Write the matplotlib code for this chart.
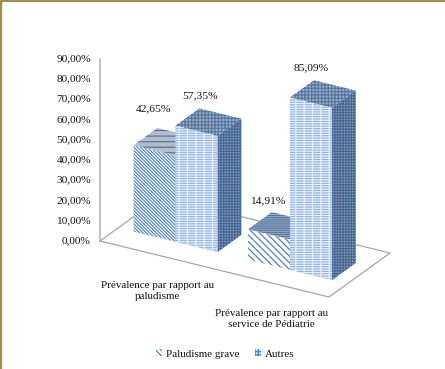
import matplotlib
matplotlib.use('Agg')
import matplotlib.pyplot as plt
from matplotlib.patches import Polygon, Patch

categories = ['Prévalence par rapport au\npaludisme', 'Prévalence par rapport au\nservice de Pédiatrie']
series_names = ['Paludisme grave', 'Autres']
paludisme = [42.65, 14.91]
autres = [57.35, 85.09]
tick_values = [0, 10, 20, 30, 40, 50, 60, 70, 80, 90]

plt.rcParams['font.family'] = ['Liberation Serif', 'DejaVu Serif']
plt.rcParams['hatch.linewidth'] = 0.9

W, H = 445, 369
origin = (100, 241)
x_vec = (229, 56)
d_vec = (61, -44)
px_per_pct = 2.025
FS = 8.2
FS_CAT = 7.9
BLUE = '#4f81bd'


def project(s, t, v=0):
    # s along the category axis, t in depth, v in percent
    return (origin[0] + s * x_vec[0] + t * d_vec[0],
            origin[1] + s * x_vec[1] + t * d_vec[1] - v * px_per_pct)


fig = plt.figure(figsize=(W / 100, H / 100), dpi=100)
ax = fig.add_axes([0, 0, 1, 1])
ax.set_xlim(0, W)
ax.set_ylim(H, 0)
ax.axis('off')

# frame of the page
ax.plot([1, 1, W], [H, 0.5, 0.5], color='#9c8f52', lw=1.6, clip_on=False)

# floor and value axis
floor = [project(0, 0), project(1, 0), project(1, 1), project(0, 1), project(0, 0)]
ax.plot([p[0] for p in floor], [p[1] for p in floor], color='#a6a6a6', lw=0.9, zorder=1)
ax.plot([origin[0]] * 2, [origin[1], origin[1] - 90 * px_per_pct], color='#b0b0b0', lw=1.1, zorder=1)

for v in tick_values:
    ax.text(91, origin[1] - v * px_per_pct, f'{v},00%', ha='right', va='center',
            fontsize=FS, color='#111111')

bar_w = 0.1834
gap = 0.0665
t0, t1 = 0.30, 0.69


def face(points, fc, hatch, hc, z):
    ax.add_patch(Polygon(points, closed=True, facecolor=fc, edgecolor=hc, hatch=hatch, lw=0, zorder=z))


def draw_bar(s0, v, front, z):
    s1 = s0 + bar_w
    # side face
    side = [project(s1, t0), project(s1, t1), project(s1, t1, v), project(s1, t0, v)]
    face(side, '#8f9cb0', '++++++', '#46699a', z)
    # top face
    top = [project(s0, t0, v), project(s1, t0, v), project(s1, t1, v), project(s0, t1, v)]
    face(top, front['top_fc'], front['top_hatch'], '#5577a5', z)
    # front face
    fr = [project(s0, t0), project(s1, t0), project(s1, t0, v), project(s0, t0, v)]
    face(fr, front['fc'], front['hatch'], front['hc'], z)
    if front.get('over'):
        face(fr, 'none', front['over'], front['over_c'], z)


style_a = {'fc': 'white', 'hatch': '\\' * 10, 'hc': '#5a8ac6', 'top_fc': '#b4bdc9', 'top_hatch': '---'}
style_a2 = {'fc': 'white', 'hatch': '\\' * 5, 'hc': '#4f81bd', 'top_fc': '#a9b4c2', 'top_hatch': '-' * 8}
style_b = {'fc': '#8fb3e0', 'hatch': '||', 'hc': '#f2f7fd', 'top_fc': '#a0adbf', 'top_hatch': '+++++',
           'over': '-' * 7, 'over_c': '#e4edf8'}

for i in range(len(categories)):
    s = i * 0.5 + gap
    draw_bar(s, paludisme[i], style_a if i == 0 else style_a2, 3 + 2 * i)
    draw_bar(s + bar_w, autres[i], style_b, 4 + 2 * i)

# data labels, placed from the back top corner of each bar
label_offsets = [(-4, -19), (-4, -11), (1, -13), (-3, -13)]
values = paludisme + autres
positions = [gap, 0.5 + gap, gap + bar_w, 0.5 + gap + bar_w]
for val, s, off in zip(values, positions, label_offsets):
    x, y = project(s, t1, val)
    ax.text(x + off[0], y + off[1], f'{val:.2f}%'.replace('.', ','), ha='center', va='center',
            fontsize=FS, color='#111111', zorder=10)

for i, cat in enumerate(categories):
    x, y = project(0.25 + i * 0.5, 0)
    ax.text(x, y + 36, cat, ha='center', va='center', fontsize=FS_CAT, color='#111111',
            linespacing=1.25, zorder=10)

handles = [Patch(facecolor='white', edgecolor=BLUE, hatch='\\' * 6, lw=0),
           Patch(facecolor='#d7e5f5', edgecolor=BLUE, hatch='+' * 5, lw=0)]
ax.legend(handles, series_names, ncol=2, loc='center', bbox_to_anchor=(225 / W, 1 - 354 / H),
          frameon=False, fontsize=FS_CAT, handlelength=0.6, handleheight=0.6, handletextpad=0.3,
          columnspacing=1.4, labelcolor='#111111')

fig.savefig('out.png', dpi=100)
